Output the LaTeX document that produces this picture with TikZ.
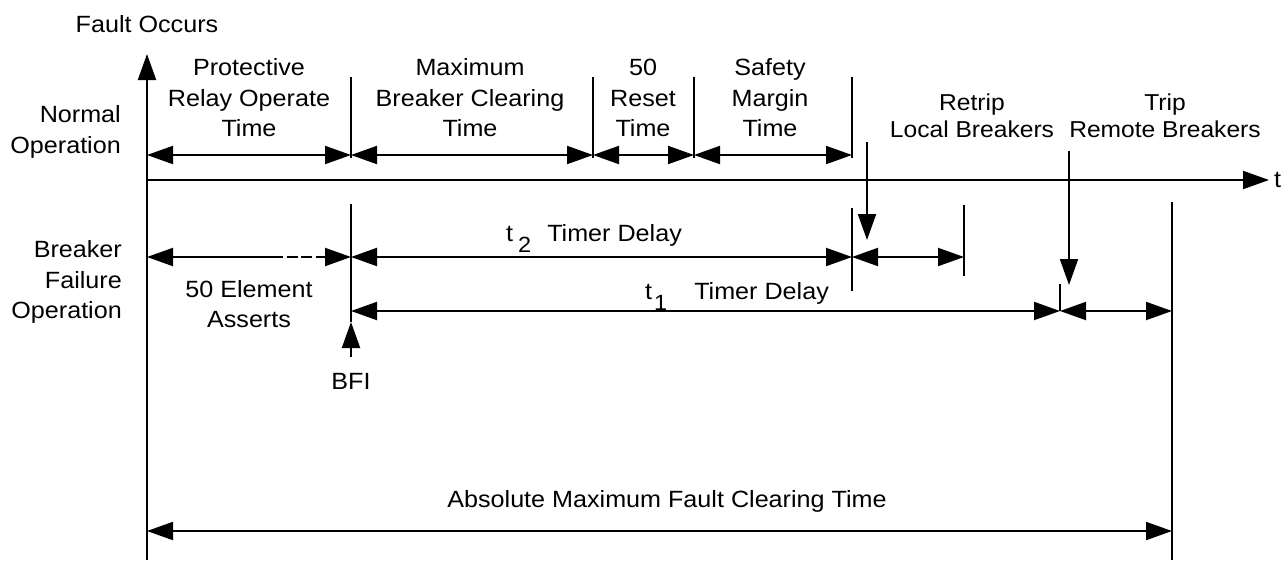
\documentclass[tikz,border=0pt]{standalone}
\usepackage{fontspec}
\setmainfont[FakeStretch=1.07]{Liberation Sans}
\usetikzlibrary{arrows.meta}
\tikzset{
  >={Triangle[length=26pt,width=18pt]},
  line/.style={line width=2pt},
  dim/.style={line width=2pt,<->},
  lbl/.style={font=\fontsize{23.5}{30.5}\selectfont,align=center,inner sep=0pt},
  side/.style={lbl,align=right,anchor=east},
  cmd/.style={lbl,font=\fontsize{23}{27}\selectfont},
}
\newcommand{\subdig}[1]{\raisebox{-11pt}{\fontsize{22}{22}\selectfont #1}}
\begin{document}
\begin{tikzpicture}[x=1pt,y=-1pt]
\useasboundingbox (0,0) rectangle (1288,560);

% axes
\coordinate (o) at (147,180);
\coordinate (vtop) at (147,54);
\coordinate (vbot) at (147,560);
\coordinate (tend) at (1269,180);
\draw[line,->] (vbot) -- (vtop);
\draw[line,->] (o) -- (tend);
\node[lbl,anchor=west] (t) at (1274,180) {t};
\node[lbl] (fault) at (147,24) {Fault Occurs};

% normal operation row
\foreach \n/\x in {a/351,b/593,c/694,d/852}{
  \coordinate (\n top) at (\x,77);
  \coordinate (\n dim) at (\x,155);
  \coordinate (\n bot) at (\x,158);
  \draw[line] (\n top) -- (\n bot);
}
\coordinate (odim) at (147,155);
\draw[dim] (odim) -- (adim);
\draw[dim] (adim) -- (bdim);
\draw[dim] (bdim) -- (cdim);
\draw[dim] (cdim) -- (ddim);

\node[side] (normal) at (121,132) {Normal\\Operation};
\node[lbl] (pr) at (249,98) {Protective\\Relay Operate\\Time};
\node[lbl] (mb) at (470,98) {Maximum\\Breaker Clearing\\Time};
\node[lbl] (rs) at (643,98) {50\\Reset\\Time};
\node[lbl] (sm) at (770,98) {Safety\\Margin\\Time};

% retrip / remote trip commands
\node[cmd] (retrip) at (972,116) {Retrip\\Local Breakers};
\node[cmd] (remote) at (1165,116) {Trip\\Remote Breakers};
\coordinate (r1) at (867,142);
\coordinate (r2) at (867,240);
\coordinate (q1) at (1069,151);
\coordinate (q2) at (1069,285);
\draw[line,->] (r1) -- (r2);
\draw[line,->] (q1) -- (q2);

% breaker failure row
\node[side] (bf) at (122,282) {Breaker\\Failure\\Operation};
\coordinate (bfiTop) at (351,204);
\coordinate (bfiTip) at (351,322);
\coordinate (bfiFoot) at (351,357);
\draw[line] (bfiTop) -- (bfiTip);
\draw[line,->] (bfiFoot) -- (bfiTip);
\node[lbl] (bfi) at (351,381) {BFI};

\coordinate (t2a) at (852,208);
\coordinate (t2b) at (852,291);
\coordinate (t3a) at (964,205);
\coordinate (t3b) at (964,276);
\coordinate (t4a) at (1060,284);
\coordinate (t4b) at (1060,311);
\coordinate (t5a) at (1172,202);
\coordinate (t5b) at (1172,560);
\draw[line] (t2a) -- (t2b);
\draw[line] (t3a) -- (t3b);
\draw[line] (t4a) -- (t4b);
\draw[line] (t5a) -- (t5b);

% 50 element asserts
\coordinate (e0) at (147,257);
\coordinate (e1) at (272,257);
\coordinate (e2) at (351,257);
\draw[line,<-] (e0) -- (e1);
\draw[line,->,dash pattern=on 11pt off 3.5pt] (e1) -- (e2);
\node[lbl] (elem) at (249,304) {50 Element\\Asserts};

% t2 timer
\coordinate (f2) at (852,257);
\coordinate (f3) at (964,257);
\draw[dim] (e2) -- (f2);
\draw[dim] (f2) -- (f3);
\node[lbl,anchor=base west] (t2lbl) at (506,241) {t\kern5pt\subdig{2}\hspace{16pt}Timer Delay};

% t1 timer
\coordinate (g1) at (351,311);
\coordinate (g2) at (1060,311);
\coordinate (g3) at (1172,311);
\draw[dim] (g1) -- (g2);
\draw[dim] (g2) -- (g3);
\node[lbl,anchor=base west] (t1lbl) at (645,299) {t\kern2pt\subdig{1}\hspace{27pt}Timer Delay};

% total clearing time
\coordinate (h1) at (147,531);
\coordinate (h2) at (1172,531);
\draw[dim] (h1) -- (h2);
\node[lbl] (abs) at (667,501) {Absolute Maximum Fault Clearing Time};
\end{tikzpicture}
\end{document}
